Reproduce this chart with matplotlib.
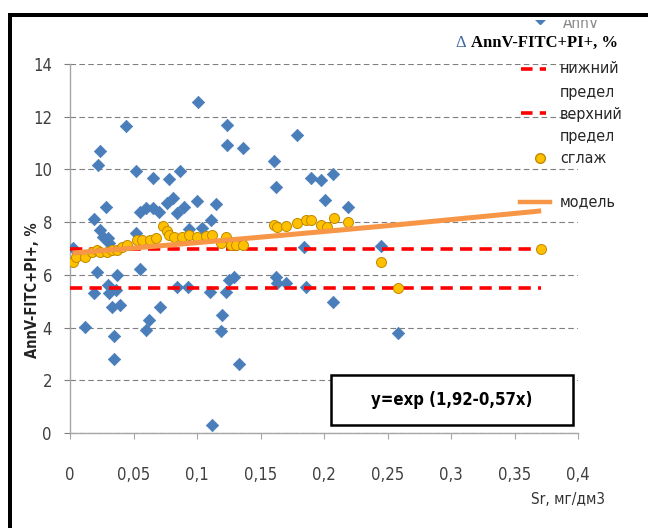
import numpy as np
import matplotlib
matplotlib.use("Agg")
import matplotlib.pyplot as plt
from matplotlib.lines import Line2D
from matplotlib.patches import Rectangle

plt.rcParams['font.family'] = ['DejaVu Sans']
plt.rcParams['font.stretch'] = 'condensed'

# --- data -----------------------------------------------------------------
sr_obs = [0.002, 0.012, 0.019, 0.021, 0.019, 0.022, 0.024, 0.024, 0.026, 0.028,
          0.030, 0.031, 0.030, 0.031, 0.033, 0.037, 0.036, 0.039, 0.035, 0.035,
          0.044, 0.052, 0.052, 0.055, 0.055, 0.060, 0.062, 0.060, 0.065, 0.070,
          0.071, 0.076, 0.081, 0.078, 0.084, 0.084, 0.087, 0.090, 0.093, 0.094,
          0.101, 0.100, 0.104, 0.111, 0.115, 0.110, 0.112, 0.124, 0.124, 0.136,
          0.123, 0.125, 0.129, 0.120, 0.119, 0.133, 0.161, 0.162, 0.162, 0.163,
          0.170, 0.179, 0.190, 0.198, 0.207, 0.201, 0.219, 0.184, 0.245, 0.186,
          0.207, 0.258, 0.065]
annv_obs = [7.02, 4.02, 8.12, 6.11, 5.31, 10.17, 10.70, 7.70, 7.44, 8.57,
            7.40, 7.21, 5.61, 5.31, 4.78, 5.99, 5.42, 4.86, 3.68, 2.81,
            11.65, 9.94, 7.59, 8.38, 6.22, 3.91, 4.29, 8.54, 9.67, 8.38,
            4.78, 8.73, 8.92, 9.64, 8.35, 5.54, 9.94, 8.57, 5.54, 7.74,
            12.56, 8.80, 7.78, 8.08, 8.69, 5.35, 0.30, 11.68, 10.93, 10.81,
            5.35, 5.80, 5.92, 4.48, 3.87, 2.62, 10.32, 9.33, 5.92, 5.69,
            5.69, 11.31, 9.67, 9.60, 9.83, 8.84, 8.57, 7.06, 7.09, 5.54,
            4.97, 3.79, 8.54]

sr_smooth = [0.002, 0.005, 0.012, 0.017, 0.021, 0.024, 0.029, 0.033, 0.037, 0.041,
             0.045, 0.053, 0.057, 0.063, 0.068, 0.073, 0.076, 0.078, 0.082, 0.088,
             0.094, 0.100, 0.107, 0.112, 0.119, 0.123, 0.127, 0.131, 0.136, 0.161,
             0.163, 0.170, 0.179, 0.186, 0.190, 0.198, 0.202, 0.208, 0.219, 0.245,
             0.258, 0.371]
annv_smooth = [6.49, 6.68, 6.68, 6.87, 6.94, 6.87, 6.87, 6.94, 6.94, 7.06,
               7.13, 7.32, 7.32, 7.32, 7.40, 7.85, 7.66, 7.51, 7.44, 7.44,
               7.51, 7.44, 7.47, 7.51, 7.21, 7.44, 7.13, 7.13, 7.13, 7.89,
               7.81, 7.85, 7.97, 8.08, 8.08, 7.89, 7.81, 8.16, 8.00, 6.49,
               5.50, 6.98]

limit_x = [0.0, 0.371]
lower_limit = [5.5, 5.5]
upper_limit = [7.0, 7.0]

model_a, model_b = 1.92, 0.57
model_x = np.array(sr_smooth)
model_y = np.exp(model_a + model_b * model_x)

x_ticks = [0, 0.05, 0.1, 0.15, 0.2, 0.25, 0.3, 0.35, 0.4]
x_tick_labels = ["0", "0,05", "0,1", "0,15", "0,2", "0,25", "0,3", "0,35", "0,4"]
y_ticks = [0, 2, 4, 6, 8, 10, 12, 14]

BLUE = '#4A7EBB'
RED = '#FF0000'
GOLD = '#FFC000'
GOLD_EDGE = '#C08A00'
ORANGE = '#F79646'

W, H = 648, 528
fig = plt.figure(figsize=(W / 100, H / 100), dpi=100)
fig.patch.set_facecolor('white')


def fx(px):
    return px / W


def fy(py):
    return 1 - py / H


ax = fig.add_axes([fx(70), fy(433), (578 - 70) / W, (433 - 64) / H])
ax.set_xlim(0, 0.4)
ax.set_ylim(0, 14)

# series in drawing order
ax.scatter(sr_obs, annv_obs, marker='D', s=40, color=BLUE, edgecolor=BLUE,
           linewidth=0.5, zorder=3)
ax.plot(limit_x, lower_limit, color=RED, lw=2.6, dashes=(3.4, 2.0), zorder=4)
ax.plot(limit_x, upper_limit, color=RED, lw=2.6, dashes=(3.4, 2.0), zorder=4)
ax.scatter(sr_smooth, annv_smooth, marker='o', s=52, color=GOLD,
           edgecolor=GOLD_EDGE, linewidth=0.7, zorder=5)
ax.plot(model_x, model_y, color=ORANGE, lw=3.6, solid_capstyle='butt', zorder=6)

# axes styling
for side in ('top', 'right'):
    ax.spines[side].set_visible(False)
for side in ('left', 'bottom'):
    ax.spines[side].set_color('#A6A6A6')
    ax.spines[side].set_linewidth(1.0)
ax.set_yticks(y_ticks)
ax.set_xticks(x_ticks)
ax.set_xticklabels(x_tick_labels)
ax.yaxis.grid(True, color='#7F7F7F', lw=0.8, linestyle=(0, (5, 3)))
ax.set_axisbelow(True)
ax.tick_params(axis='y', length=4, color='#7F7F7F', pad=9, labelsize=12,
               labelcolor='#404040')
ax.tick_params(axis='x', length=4, color='#A6A6A6', pad=20, labelsize=12,
               labelcolor='#404040')

# axis titles
fig.text(fx(33), fy(290), 'AnnV-FITC+PI+, %', rotation=90, ha='center',
         va='center', fontsize=10.5, fontweight='bold', color='#222222')
fig.text(fx(568), fy(499), 'Sr, мг/дм3', ha='center', va='center',
         fontsize=11, color='#333333')

# equation box
fig.add_artist(Rectangle((fx(331), fy(425)), (573 - 331) / W, (425 - 375) / H,
                         transform=fig.transFigure, facecolor='white',
                         edgecolor='black', lw=1.8, zorder=10))
fig.text(fx(452), fy(400), 'y=exp (1,92-0,57x)', ha='center', va='center',
         fontsize=12, fontweight='bold', zorder=11)

# heading over the legend
fig.text(fx(455), fy(43), 'Δ', ha='left', va='center', fontsize=12,
         color='#3E64A6', family=['Liberation Serif'])
fig.text(fx(471), fy(43), 'AnnV-FITC+PI+, %', ha='left', va='center',
         fontsize=12, fontweight='bold', family=['Liberation Serif'])

# legend
leg_font = dict(fontsize=11.5, color='#262626', ha='left', va='center')
fig.add_artist(Line2D([fx(521), fx(546)], [fy(69), fy(69)], color=RED, lw=2.6,
                      dashes=(3.2, 2.0), transform=fig.transFigure))
fig.text(fx(560), fy(69), 'нижний', **leg_font)
fig.text(fx(560), fy(92), 'предел', **leg_font)
fig.add_artist(Line2D([fx(521), fx(546)], [fy(113), fy(113)], color=RED, lw=2.6,
                      dashes=(3.2, 2.0), transform=fig.transFigure))
fig.text(fx(560), fy(114), 'верхний', **leg_font)
fig.text(fx(560), fy(137), 'предел', **leg_font)
fig.add_artist(Line2D([fx(540)], [fy(158)], marker='o', markersize=7,
                      color=GOLD, markeredgecolor=GOLD_EDGE, lw=0,
                      transform=fig.transFigure))
fig.text(fx(560), fy(158), 'сглаж', **leg_font)
fig.add_artist(Line2D([fx(520), fx(550)], [fy(202), fy(202)], color=ORANGE,
                      lw=3.2, transform=fig.transFigure))
fig.text(fx(560), fy(202), 'модель', **leg_font)

# first legend entry, cut by the frame
fig.add_artist(Line2D([fx(540)], [fy(18)], marker='D', markersize=6,
                      color=BLUE, lw=0, transform=fig.transFigure))
fig.text(fx(563), fy(23), 'AnnV', fontsize=11, color='#888888', ha='left',
         va='center')
fig.add_artist(Rectangle((0, fy(20)), 1, 20 / H, transform=fig.transFigure,
                         facecolor='white', edgecolor='none', zorder=20))

# outer frame
fig.add_artist(Rectangle((fx(8), fy(17)), 1, 4 / H, transform=fig.transFigure,
                         facecolor='black', edgecolor='none', zorder=21))
fig.add_artist(Rectangle((fx(8), 0), 4 / W, fy(13), transform=fig.transFigure,
                         facecolor='black', edgecolor='none', zorder=21))

fig.savefig('out.png', dpi=100)
